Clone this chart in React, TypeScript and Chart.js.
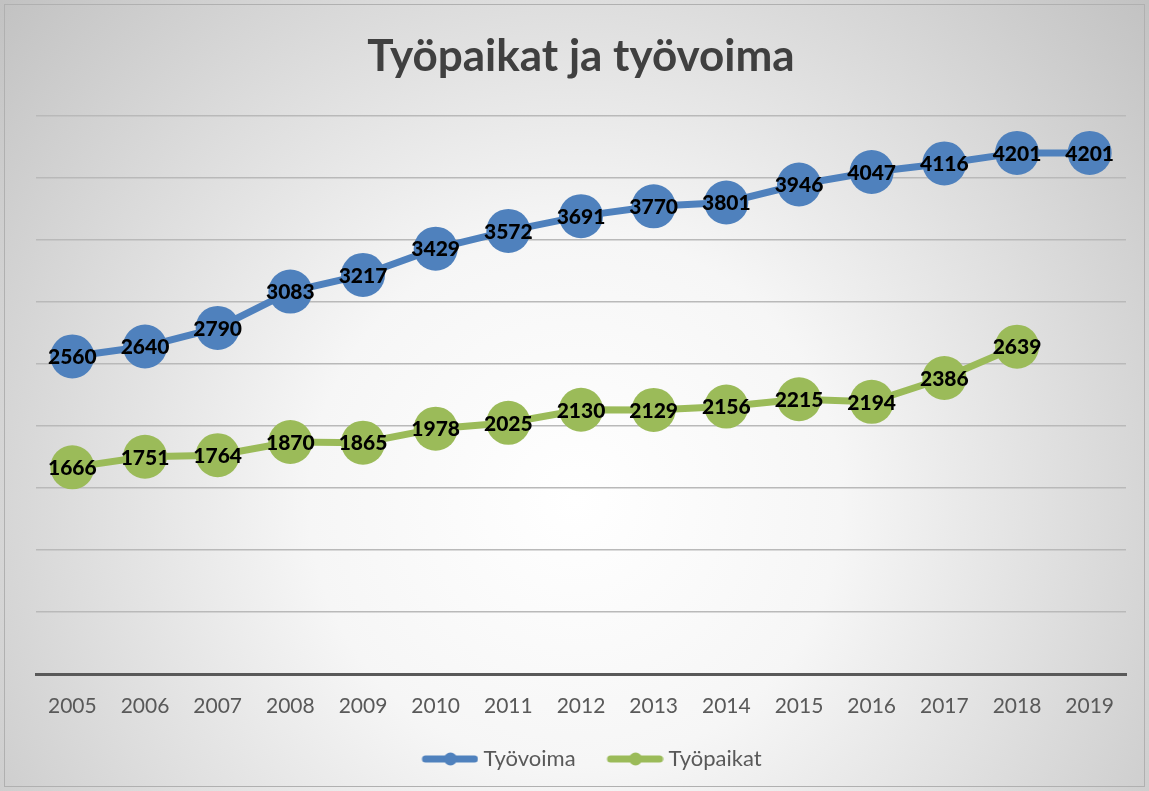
import React, { useEffect, useRef } from "react";
import { Chart, registerables } from "chart.js";

Chart.register(...registerables);

const years = ["2005","2006","2007","2008","2009","2010","2011","2012","2013","2014","2015","2016","2017","2018","2019"];
const tyovoima = [2560, 2640, 2790, 3083, 3217, 3429, 3572, 3691, 3770, 3801, 3946, 4047, 4116, 4201, 4201];
const tyopaikat = [1666, 1751, 1764, 1870, 1865, 1978, 2025, 2130, 2129, 2156, 2215, 2194, 2386, 2639, null];
const titleText = "Työpaikat ja työvoima";
const seriesNames = ["Työvoima", "Työpaikat"];
const BLUE = "#4f81bd";
const GREEN = "#9bbb59";

function legendIcon(color: string): HTMLCanvasElement {
  const c = document.createElement("canvas");
  c.width = 84;
  c.height = 16;
  const ctx = c.getContext("2d")!;
  ctx.strokeStyle = color;
  ctx.lineWidth = 7;
  ctx.lineCap = "round";
  ctx.beginPath();
  ctx.moveTo(31, 8);
  ctx.lineTo(80, 8);
  ctx.stroke();
  ctx.fillStyle = color;
  ctx.beginPath();
  ctx.arc(56, 8, 6.5, 0, Math.PI * 2);
  ctx.fill();
  return c;
}

const bgPlugin = {
  id: "bg",
  beforeDraw(chart: any) {
    const { ctx, width, height } = chart;
    ctx.save();
    const g = ctx.createRadialGradient(575, 500, 0, 575, 500, 760);
    g.addColorStop(0, "#ffffff");
    g.addColorStop(0.35, "#f6f6f6");
    g.addColorStop(1, "#c2c2c2");
    ctx.fillStyle = g;
    ctx.fillRect(0, 0, width, height);
    ctx.strokeStyle = "#b0b0b0";
    ctx.lineWidth = 1;
    ctx.strokeRect(4.5, 4.5, width - 9, height - 9);
    ctx.restore();
  },
};

const labelPlugin = {
  id: "pointLabels",
  afterDatasetsDraw(chart: any) {
    const { ctx } = chart;
    ctx.save();
    ctx.font = "900 21px Lato";
    ctx.fillStyle = "#000000";
    ctx.textAlign = "center";
    ctx.textBaseline = "middle";
    chart.data.datasets.forEach((ds: any, i: number) => {
      const meta = chart.getDatasetMeta(i);
      meta.data.forEach((pt: any, j: number) => {
        const v = ds.data[j];
        if (v === null || v === undefined) return;
        ctx.fillText(String(v), pt.x, pt.y + 1);
      });
    });
    ctx.restore();
  },
};

export default function App() {
  const ref = useRef<HTMLCanvasElement>(null);
  useEffect(() => {
    document.body.style.margin = "0";
    const icons = [legendIcon(BLUE), legendIcon(GREEN)];
    const chart = new Chart(ref.current!, {
      type: "line",
      data: {
        labels: years,
        datasets: [
          {
            label: seriesNames[0],
            data: tyovoima,
            borderColor: BLUE,
            backgroundColor: BLUE,
            borderWidth: 7,
            pointRadius: 22,
            pointHoverRadius: 22,
            pointBackgroundColor: BLUE,
            pointBorderWidth: 0,
          },
          {
            label: seriesNames[1],
            data: tyopaikat,
            borderColor: GREEN,
            backgroundColor: GREEN,
            borderWidth: 7,
            pointRadius: 22,
            pointHoverRadius: 22,
            pointBackgroundColor: GREEN,
            pointBorderWidth: 0,
          },
        ],
      },
      options: {
        animation: false,
        responsive: false,
        events: [],
        layout: { autoPadding: false, padding: { left: 36, right: 23, top: 0, bottom: 11 } },
        scales: {
          x: {
            offset: true,
            grid: { display: false },
            border: { display: true, color: "#595959", width: 3 },
            ticks: { color: "#595959", font: { family: "Lato", size: 21 }, padding: 12, maxRotation: 0 },
            afterFit(scale: any) {
              scale.height = 64;
            },
          },
          y: {
            min: 0,
            max: 4500,
            ticks: { display: false, stepSize: 500 },
            grid: { color: "#b9b9b9", lineWidth: 1.5, drawTicks: false },
            border: { display: false },
          },
        },
        plugins: {
          title: {
            display: true,
            text: titleText,
            color: "#404040",
            font: { family: "Lato", size: 44, weight: "bold" },
            padding: { top: 30, bottom: 33 },
          },
          legend: {
            position: "bottom",
            labels: {
              color: "#595959",
              font: { family: "Lato", size: 22 },
              usePointStyle: true,
              pointStyleWidth: 72,
              padding: 10,
              generateLabels: () =>
                seriesNames.map((n, i) => ({
                  text: n,
                  pointStyle: icons[i],
                  fillStyle: i === 0 ? BLUE : GREEN,
                  strokeStyle: i === 0 ? BLUE : GREEN,
                  fontColor: "#595959",
                  lineWidth: 0,
                  hidden: false,
                  datasetIndex: i,
                })) as any,
            },
          },
          tooltip: { enabled: false },
        },
      },
      plugins: [bgPlugin, labelPlugin],
    });
    return () => chart.destroy();
  }, []);
  return (
    <div style={{ width: 1149, height: 791 }}>
      <canvas ref={ref} width={1149} height={791} style={{ display: "block" }} />
    </div>
  );
}
